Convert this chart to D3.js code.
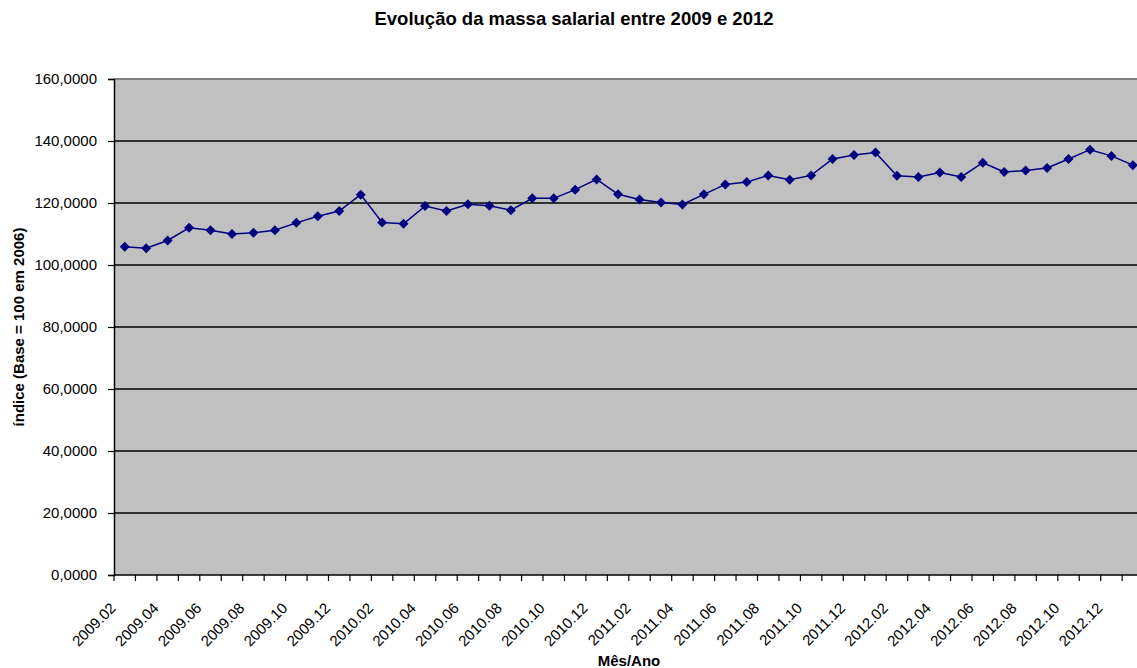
<!DOCTYPE html>
<html>
<head>
<meta charset="utf-8">
<script src="https://cdn.jsdelivr.net/npm/d3@7"></script>
<style>
  html, body { margin: 0; padding: 0; background: #fff; overflow: hidden; }
  svg { display: block; font-family: "Liberation Sans", Arial, sans-serif; }
</style>
</head>
<body>
<svg id="chart" width="1137" height="668"></svg>
<script>
// Monthly categories, 2009.02 through 2013.01
const months = [
  "2009.02","2009.03","2009.04","2009.05","2009.06","2009.07","2009.08","2009.09","2009.10","2009.11","2009.12",
  "2010.01","2010.02","2010.03","2010.04","2010.05","2010.06","2010.07","2010.08","2010.09","2010.10","2010.11","2010.12",
  "2011.01","2011.02","2011.03","2011.04","2011.05","2011.06","2011.07","2011.08","2011.09","2011.10","2011.11","2011.12",
  "2012.01","2012.02","2012.03","2012.04","2012.05","2012.06","2012.07","2012.08","2012.09","2012.10","2012.11","2012.12",
  "2013.01"
];

// Wage bill index (base = 100 in 2006)
const indexValues = [
  105.9, 105.4, 107.9, 112.0, 111.2, 110.0, 110.4, 111.2, 113.6, 115.7, 117.4, 122.7,
  113.7, 113.3, 119.0, 117.4, 119.6, 119.1, 117.7, 121.5, 121.5, 124.3, 127.6, 122.8,
  121.1, 120.2, 119.5, 122.8, 126.0, 126.8, 128.9, 127.5, 128.9, 134.2, 135.5, 136.3,
  128.8, 128.4, 129.8, 128.4, 133.0, 130.0, 130.5, 131.3, 134.2, 137.2, 135.2, 132.2
];

const yTicks = [0, 20, 40, 60, 80, 100, 120, 140, 160];
const titleText = "Evolução da massa salarial entre 2009 e 2012";
const yTitleText = "índice (Base = 100 em 2006)";
const xTitleText = "Mês/Ano";

const svg = d3.select("#chart");
const plot = { left: 114, top: 79, right: 1143.6, bottom: 575 };

const x = d3.scaleBand().domain(months).range([plot.left, plot.right]).paddingInner(0).paddingOuter(0);
const y = d3.scaleLinear().domain([0, 160]).range([plot.bottom, plot.top]);

const fmt = v => d3.format(".4f")(v).replace(".", ",");

// Plot area
svg.append("rect")
  .attr("x", plot.left).attr("y", plot.top)
  .attr("width", plot.right - plot.left).attr("height", plot.bottom - plot.top)
  .attr("fill", "#c0c0c0");

// Horizontal gridlines
svg.append("g").selectAll("line")
  .data(yTicks.filter(t => t > 0 && t < 160))
  .join("line")
  .attr("x1", plot.left).attr("x2", plot.right)
  .attr("y1", d => y(d)).attr("y2", d => y(d))
  .attr("stroke", "#000").attr("stroke-width", 1.3);

// Top border of plot
svg.append("line")
  .attr("x1", plot.left).attr("x2", plot.right)
  .attr("y1", y(160)).attr("y2", y(160))
  .attr("stroke", "#808080").attr("stroke-width", 2);

// Y axis
const yAxis = d3.axisLeft(y).tickValues(yTicks).tickFormat(fmt).tickSize(6).tickPadding(11);
const gy = svg.append("g").attr("transform", `translate(${plot.left},0)`).call(yAxis);
gy.select(".domain").attr("stroke", "#000").attr("stroke-width", 1.5);
gy.selectAll(".tick line").attr("stroke", "#000").attr("stroke-width", 1.2);
gy.selectAll(".tick text").attr("font-size", 15).attr("fill", "#000")
  .attr("font-family", "'Liberation Sans', Arial, sans-serif");

// X axis: ticks sit on category boundaries
const gx = svg.append("g").attr("transform", `translate(0,${plot.bottom})`);
gx.append("line")
  .attr("x1", plot.left).attr("x2", plot.right)
  .attr("y1", 0).attr("y2", 0)
  .attr("stroke", "#000").attr("stroke-width", 1.5);
const boundaries = months.map(m => x(m)).concat([plot.right]);
gx.selectAll("line.tk").data(boundaries).join("line")
  .attr("class", "tk")
  .attr("x1", d => d).attr("x2", d => d)
  .attr("y1", 0).attr("y2", 6)
  .attr("stroke", "#000").attr("stroke-width", 1.2);

gx.selectAll("text.lbl")
  .data(months.filter((m, i) => i % 2 === 0))
  .join("text")
  .attr("class", "lbl")
  .attr("text-anchor", "end")
  .attr("font-size", 15)
  .attr("fill", "#000")
  .attr("transform", d => `translate(${x(d) + x.bandwidth() / 2 - 8},${34}) rotate(-45)`)
  .text(d => d);

// Series line and diamond markers
const pts = months.map((m, i) => ({ m, v: indexValues[i] }));
svg.append("path")
  .datum(pts)
  .attr("fill", "none")
  .attr("stroke", "#000080")
  .attr("stroke-width", 1.5)
  .attr("d", d3.line().x(d => x(d.m) + x.bandwidth() / 2).y(d => y(d.v)));

svg.append("g").selectAll("path")
  .data(pts)
  .join("path")
  .attr("transform", d => `translate(${x(d.m) + x.bandwidth() / 2},${y(d.v)})`)
  .attr("d", "M0,-5L5,0L0,5L-5,0Z")
  .attr("fill", "#000080");

// Titles
svg.append("text")
  .attr("x", 574).attr("y", 25)
  .attr("text-anchor", "middle")
  .attr("font-size", 18.5).attr("font-weight", "bold")
  .text(titleText);

svg.append("text")
  .attr("transform", `translate(24,327) rotate(-90)`)
  .attr("text-anchor", "middle")
  .attr("font-size", 15).attr("font-weight", "bold")
  .text(yTitleText);

svg.append("text")
  .attr("x", 629).attr("y", 666)
  .attr("text-anchor", "middle")
  .attr("font-size", 15).attr("font-weight", "bold")
  .text(xTitleText);
</script>
</body>
</html>
